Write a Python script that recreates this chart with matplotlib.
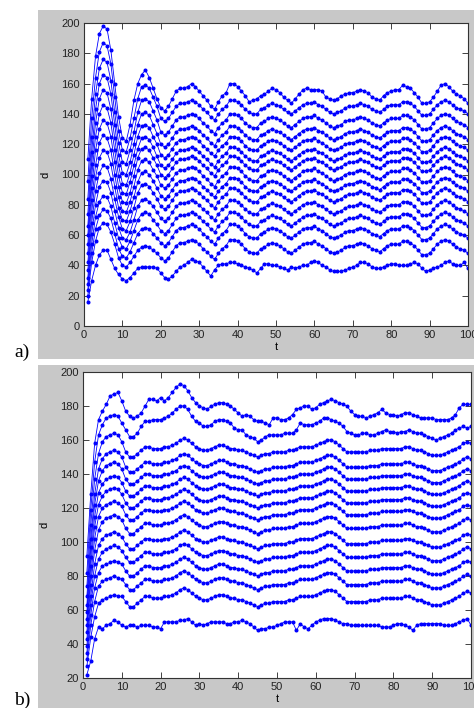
import matplotlib
matplotlib.use("Agg")
import matplotlib.pyplot as plt
from matplotlib.patches import Rectangle

plt.rcParams['font.family'] = ['Liberation Sans', 'DejaVu Sans']

t = list(range(1, 101))

# panel a), curves from bottom to top
a_01 = [16, 30, 40, 47, 50, 50, 44, 38, 34, 31, 30, 32, 35, 38, 39, 39, 39, 39, 38, 35,
        32, 31, 33, 36, 39, 40, 42, 44, 43, 42, 39, 36, 33, 37, 40, 41, 41, 42, 42, 41,
        40, 39, 38, 37, 35, 38, 41, 41, 40, 40, 39, 38, 37, 39, 38, 39, 40, 40, 42, 43,
        42, 40, 39, 37, 36, 36, 36, 37, 38, 39, 40, 42, 42, 41, 39, 38, 38, 39, 40, 41,
        41, 40, 40, 40, 41, 42, 41, 38, 36, 37, 38, 39, 40, 42, 43, 41, 40, 40, 42, 38]
a_02 = [20, 42, 56, 65, 68, 67, 62, 54, 45, 40, 39, 42, 46, 50, 52, 53, 52, 50, 48, 45,
        43, 45, 49, 53, 55, 55, 56, 57, 56, 54, 51, 49, 46, 44, 48, 51, 53, 57, 57, 56,
        54, 51, 49, 48, 48, 51, 52, 54, 55, 54, 53, 51, 49, 48, 50, 52, 54, 55, 55, 56,
        54, 53, 51, 49, 48, 49, 50, 52, 53, 53, 54, 55, 54, 53, 51, 50, 49, 51, 53, 54,
        54, 54, 56, 56, 55, 53, 50, 47, 47, 48, 51, 54, 56, 57, 56, 54, 52, 51, 50, 48]
a_03 = [24, 48, 64, 73, 77, 76, 71, 61, 51, 46, 45, 49, 55, 61, 64, 65, 64, 61, 58, 55,
        53, 55, 59, 63, 65, 65, 66, 67, 66, 64, 61, 59, 56, 54, 58, 61, 63, 67, 67, 66,
        64, 61, 59, 58, 58, 61, 62, 64, 65, 64, 63, 61, 59, 58, 60, 62, 64, 65, 65, 66,
        64, 63, 61, 59, 58, 59, 60, 62, 63, 63, 64, 65, 64, 63, 61, 60, 59, 61, 63, 64,
        64, 64, 66, 66, 65, 63, 60, 57, 57, 58, 61, 64, 66, 67, 66, 64, 62, 61, 60, 58]
a_04 = [28, 54, 72, 82, 86, 85, 79, 68, 58, 52, 51, 56, 63, 70, 74, 75, 74, 70, 67, 63,
        61, 63, 67, 71, 73, 73, 74, 75, 74, 72, 69, 67, 64, 62, 66, 69, 71, 75, 75, 74,
        72, 69, 67, 66, 66, 69, 70, 72, 73, 72, 71, 69, 67, 66, 68, 70, 72, 73, 73, 74,
        72, 71, 69, 67, 66, 67, 68, 70, 71, 71, 72, 73, 72, 71, 69, 68, 67, 69, 71, 72,
        72, 72, 74, 74, 73, 71, 68, 65, 65, 66, 69, 72, 74, 75, 74, 72, 70, 69, 68, 66]
a_05 = [32, 61, 80, 92, 96, 95, 88, 76, 65, 58, 57, 62, 70, 79, 83, 84, 82, 79, 75, 71,
        69, 71, 75, 79, 81, 81, 82, 83, 82, 80, 77, 75, 72, 70, 74, 77, 79, 83, 83, 82,
        80, 77, 75, 74, 74, 77, 78, 80, 81, 80, 79, 77, 75, 74, 76, 78, 80, 81, 81, 82,
        80, 79, 77, 75, 74, 75, 76, 78, 79, 79, 80, 81, 80, 79, 77, 76, 75, 77, 79, 80,
        80, 80, 82, 82, 81, 79, 76, 73, 73, 74, 77, 80, 82, 83, 82, 80, 78, 77, 76, 74]
a_06 = [37, 68, 89, 101, 106, 105, 97, 84, 72, 64, 63, 69, 78, 88, 93, 94, 92, 88, 84, 79,
        77, 79, 83, 87, 89, 89, 90, 91, 90, 88, 85, 83, 80, 78, 82, 85, 87, 91, 91, 90,
        88, 85, 83, 82, 82, 85, 86, 88, 89, 88, 87, 85, 83, 82, 84, 86, 88, 89, 89, 90,
        88, 87, 85, 83, 82, 83, 84, 86, 87, 87, 88, 89, 88, 87, 85, 84, 83, 85, 87, 88,
        88, 88, 90, 90, 89, 87, 84, 81, 81, 82, 85, 88, 90, 91, 90, 88, 86, 85, 84, 82]
a_07 = [42, 75, 98, 111, 116, 115, 107, 92, 78, 70, 69, 76, 85, 95, 101, 102, 100, 96, 91, 86,
        84, 86, 90, 94, 96, 96, 97, 98, 97, 95, 92, 90, 87, 85, 89, 92, 94, 98, 98, 97,
        95, 92, 90, 89, 89, 92, 93, 95, 96, 95, 94, 92, 90, 89, 91, 93, 95, 96, 96, 97,
        95, 94, 92, 90, 89, 90, 91, 93, 94, 94, 95, 96, 95, 94, 92, 91, 90, 92, 94, 95,
        95, 95, 97, 97, 96, 94, 91, 88, 88, 89, 92, 95, 97, 98, 97, 95, 93, 92, 91, 89]
a_08 = [48, 83, 106, 121, 126, 124, 116, 100, 85, 76, 75, 82, 92, 103, 109, 110, 108, 103, 99, 93,
        91, 93, 97, 101, 103, 103, 104, 105, 104, 102, 99, 97, 94, 92, 96, 99, 101, 105, 105, 104,
        102, 99, 97, 96, 96, 99, 100, 102, 103, 102, 101, 99, 97, 96, 98, 100, 102, 103, 103, 104,
        102, 101, 99, 97, 96, 97, 98, 100, 101, 101, 102, 103, 102, 101, 99, 98, 97, 99, 101, 102,
        102, 102, 104, 104, 103, 101, 98, 95, 95, 96, 99, 102, 104, 105, 104, 102, 100, 99, 98, 96]
a_09 = [54, 91, 116, 130, 136, 134, 125, 108, 92, 82, 81, 88, 99, 111, 117, 118, 116, 111, 106, 100,
        98, 100, 104, 108, 110, 110, 111, 112, 111, 109, 106, 104, 101, 99, 103, 106, 108, 112, 112, 111,
        109, 106, 104, 103, 103, 106, 107, 109, 110, 109, 108, 106, 104, 103, 105, 107, 109, 110, 110, 111,
        109, 108, 106, 104, 103, 104, 105, 107, 108, 108, 109, 110, 109, 108, 106, 105, 104, 106, 108, 109,
        109, 109, 111, 111, 110, 108, 105, 102, 102, 103, 106, 109, 111, 112, 111, 109, 107, 106, 105, 103]
a_10 = [60, 99, 125, 140, 146, 144, 134, 116, 99, 88, 87, 95, 106, 117, 124, 125, 123, 118, 112, 106,
        104, 106, 110, 114, 116, 116, 117, 118, 117, 115, 112, 110, 107, 105, 109, 112, 114, 118, 118, 117,
        115, 112, 110, 109, 109, 112, 113, 115, 116, 115, 114, 112, 110, 109, 111, 113, 115, 116, 116, 117,
        115, 114, 112, 110, 109, 110, 111, 113, 114, 114, 115, 116, 115, 114, 112, 111, 110, 112, 114, 115,
        115, 115, 117, 117, 116, 114, 111, 108, 108, 109, 112, 115, 117, 118, 117, 115, 113, 112, 111, 109]
a_11 = [66, 107, 134, 150, 156, 154, 143, 124, 106, 94, 93, 101, 113, 125, 132, 133, 131, 125, 120, 113,
        111, 113, 117, 121, 123, 123, 124, 125, 124, 122, 119, 117, 114, 112, 116, 119, 121, 125, 125, 124,
        122, 119, 117, 116, 116, 119, 120, 122, 123, 122, 121, 119, 117, 116, 118, 120, 122, 123, 123, 124,
        122, 121, 119, 117, 116, 117, 118, 120, 121, 121, 122, 123, 122, 121, 119, 118, 117, 119, 121, 122,
        122, 122, 124, 124, 123, 121, 118, 115, 115, 116, 119, 122, 124, 125, 124, 122, 120, 119, 118, 116]
a_12 = [74, 115, 143, 160, 166, 164, 153, 133, 113, 101, 100, 108, 120, 133, 140, 141, 139, 133, 127, 120,
        118, 120, 124, 128, 130, 130, 131, 132, 131, 129, 126, 124, 121, 119, 123, 126, 128, 132, 132, 131,
        129, 126, 124, 123, 123, 126, 127, 129, 130, 129, 128, 126, 124, 123, 125, 127, 129, 130, 130, 131,
        129, 128, 126, 124, 123, 124, 125, 127, 128, 128, 129, 130, 129, 128, 126, 125, 124, 126, 128, 129,
        129, 129, 131, 131, 130, 128, 125, 122, 122, 123, 126, 129, 131, 132, 131, 129, 127, 126, 125, 123]
a_13 = [84, 125, 153, 170, 176, 174, 162, 141, 121, 108, 107, 116, 128, 141, 149, 150, 148, 142, 136, 128,
        126, 128, 132, 136, 138, 138, 139, 140, 139, 137, 134, 132, 129, 127, 131, 134, 136, 140, 140, 139,
        137, 134, 132, 131, 131, 134, 135, 137, 138, 137, 136, 134, 132, 131, 133, 135, 137, 138, 138, 139,
        137, 136, 134, 132, 131, 132, 133, 135, 136, 136, 137, 138, 137, 136, 134, 133, 132, 134, 136, 137,
        137, 137, 139, 139, 138, 136, 133, 130, 130, 131, 134, 137, 139, 140, 139, 137, 135, 134, 133, 131]
a_14 = [96, 137, 164, 181, 187, 185, 173, 151, 129, 116, 115, 124, 137, 150, 158, 159, 157, 151, 145, 137,
        135, 137, 141, 145, 147, 147, 148, 149, 148, 146, 143, 141, 138, 136, 140, 143, 145, 149, 149, 148,
        146, 143, 141, 140, 140, 143, 144, 146, 147, 146, 145, 143, 141, 140, 142, 144, 146, 147, 147, 148,
        146, 145, 143, 141, 140, 141, 142, 144, 145, 145, 146, 147, 146, 145, 143, 142, 141, 143, 145, 146,
        146, 146, 148, 148, 147, 145, 142, 139, 139, 140, 143, 146, 148, 149, 148, 146, 144, 143, 142, 140]
a_15 = [110, 150, 178, 193, 198, 196, 182, 160, 138, 124, 122, 133, 149, 160, 166, 169, 164, 157, 150, 144,
        142, 145, 150, 155, 157, 157, 158, 160, 158, 155, 152, 149, 145, 143, 148, 152, 154, 160, 160, 158,
        155, 152, 148, 149, 150, 152, 153, 155, 157, 156, 154, 151, 149, 147, 150, 153, 156, 157, 156, 156,
        156, 155, 151, 150, 149, 150, 152, 153, 154, 154, 155, 156, 155, 154, 151, 150, 149, 152, 154, 155,
        156, 156, 159, 158, 157, 154, 151, 147, 147, 148, 151, 155, 159, 160, 158, 155, 153, 152, 150, 147]

# panel b), curves from bottom to top
b_01 = [22, 30, 43, 50, 49, 51, 52, 54, 53, 51, 50, 51, 51, 50, 51, 51, 51, 50, 50, 49,
        53, 53, 53, 53, 54, 54, 55, 53, 51, 52, 51, 52, 53, 53, 53, 53, 52, 52, 53, 53,
        54, 53, 52, 50, 48, 49, 49, 50, 50, 51, 52, 53, 53, 53, 48, 52, 50, 49, 51, 53,
        54, 55, 55, 55, 54, 53, 52, 52, 51, 51, 51, 51, 51, 51, 51, 51, 50, 50, 50, 51,
        52, 52, 51, 50, 48, 51, 52, 52, 52, 52, 52, 52, 51, 51, 51, 52, 53, 54, 55, 51]
b_02 = [27, 44, 56, 64, 66, 67, 68, 69, 68, 68, 65, 62, 62, 64, 66, 68, 68, 67, 67, 67,
        68, 68, 69, 70, 72, 73, 72, 70, 68, 67, 66, 66, 67, 68, 69, 69, 68, 67, 67, 66,
        66, 65, 64, 63, 62, 63, 64, 64, 65, 65, 65, 65, 66, 66, 67, 68, 68, 68, 68, 69,
        70, 71, 72, 72, 71, 69, 67, 65, 65, 65, 65, 65, 65, 66, 66, 66, 67, 67, 67, 67,
        67, 67, 68, 68, 67, 66, 66, 65, 64, 63, 63, 63, 64, 65, 66, 67, 68, 70, 71, 70]
b_03 = [31, 51, 65, 74, 77, 78, 79, 80, 79, 78, 75, 72, 72, 74, 76, 78, 78, 77, 77, 77,
        78, 78, 79, 80, 82, 83, 82, 80, 78, 77, 76, 76, 77, 78, 79, 79, 78, 77, 77, 76,
        76, 75, 74, 73, 72, 73, 74, 74, 75, 75, 75, 75, 76, 76, 77, 78, 78, 78, 78, 79,
        80, 81, 82, 82, 81, 79, 77, 75, 75, 75, 75, 75, 75, 76, 76, 76, 77, 77, 77, 77,
        77, 77, 78, 78, 77, 76, 76, 75, 74, 73, 73, 73, 74, 75, 76, 77, 78, 80, 81, 80]
b_04 = [35, 57, 73, 82, 86, 87, 88, 89, 88, 87, 83, 80, 80, 82, 84, 86, 86, 85, 85, 85,
        86, 86, 87, 88, 90, 91, 90, 88, 86, 85, 84, 84, 85, 86, 87, 87, 86, 85, 85, 84,
        84, 83, 82, 81, 80, 81, 82, 82, 83, 83, 83, 83, 84, 84, 85, 86, 86, 86, 86, 87,
        88, 89, 90, 90, 89, 87, 85, 83, 83, 83, 83, 83, 83, 84, 84, 84, 85, 85, 85, 85,
        85, 85, 86, 86, 85, 84, 84, 83, 82, 81, 81, 81, 82, 83, 84, 85, 86, 88, 89, 88]
b_05 = [39, 63, 80, 90, 94, 96, 97, 98, 97, 95, 91, 88, 88, 90, 92, 94, 94, 93, 93, 93,
        94, 94, 95, 96, 98, 99, 98, 96, 94, 93, 92, 92, 93, 94, 95, 95, 94, 93, 93, 92,
        92, 91, 90, 89, 88, 89, 90, 90, 91, 91, 91, 91, 92, 92, 93, 94, 94, 94, 94, 95,
        96, 97, 98, 98, 97, 95, 93, 91, 91, 91, 91, 91, 91, 92, 92, 92, 93, 93, 93, 93,
        93, 93, 94, 94, 93, 92, 92, 91, 90, 89, 89, 89, 90, 91, 92, 93, 94, 96, 97, 96]
b_06 = [43, 68, 87, 98, 102, 104, 105, 106, 105, 103, 99, 96, 96, 98, 100, 102, 102, 101, 101, 101,
        102, 102, 103, 104, 106, 107, 106, 104, 102, 101, 100, 100, 101, 102, 103, 103, 102, 101, 101, 100,
        100, 99, 98, 97, 96, 97, 98, 98, 99, 99, 99, 99, 100, 100, 101, 102, 102, 102, 102, 103,
        104, 105, 106, 106, 105, 103, 101, 99, 99, 99, 99, 99, 99, 100, 100, 100, 101, 101, 101, 101,
        101, 101, 102, 102, 101, 100, 100, 99, 98, 97, 97, 97, 98, 99, 100, 101, 102, 104, 105, 104]
b_07 = [47, 75, 95, 107, 112, 114, 115, 116, 115, 113, 108, 105, 105, 107, 109, 111, 111, 110, 110, 110,
        111, 111, 112, 113, 115, 116, 115, 113, 111, 110, 109, 109, 110, 111, 112, 112, 111, 110, 110, 109,
        109, 108, 107, 106, 105, 106, 107, 107, 108, 108, 108, 108, 109, 109, 110, 111, 111, 111, 111, 112,
        113, 114, 115, 115, 114, 112, 110, 108, 108, 108, 108, 108, 108, 109, 109, 109, 110, 110, 110, 110,
        110, 110, 111, 111, 110, 109, 109, 108, 107, 106, 106, 106, 107, 108, 109, 110, 111, 113, 114, 113]
b_08 = [51, 80, 102, 115, 120, 122, 123, 124, 123, 121, 116, 113, 113, 115, 117, 119, 119, 118, 118, 118,
        119, 119, 120, 121, 123, 124, 123, 121, 119, 118, 117, 117, 118, 119, 120, 120, 119, 118, 118, 117,
        117, 116, 115, 114, 113, 114, 115, 115, 116, 116, 116, 116, 117, 117, 118, 119, 119, 119, 119, 120,
        121, 122, 123, 123, 122, 120, 118, 116, 116, 116, 116, 116, 116, 117, 117, 117, 118, 118, 118, 118,
        118, 118, 119, 119, 118, 117, 117, 116, 115, 114, 114, 114, 115, 116, 117, 118, 119, 121, 122, 121]
b_09 = [55, 86, 109, 122, 127, 130, 131, 132, 131, 128, 123, 120, 120, 122, 124, 126, 126, 125, 125, 125,
        126, 126, 127, 128, 130, 131, 130, 128, 126, 125, 124, 124, 125, 126, 127, 127, 126, 125, 125, 124,
        124, 123, 122, 121, 120, 121, 122, 122, 123, 123, 123, 123, 124, 124, 125, 126, 126, 126, 126, 127,
        128, 129, 130, 130, 129, 127, 125, 123, 123, 123, 123, 123, 123, 124, 124, 124, 125, 125, 125, 125,
        125, 125, 126, 126, 125, 124, 124, 123, 122, 121, 121, 121, 122, 123, 124, 125, 126, 128, 129, 128]
b_10 = [59, 91, 115, 129, 134, 137, 138, 139, 138, 135, 130, 127, 127, 129, 131, 133, 133, 132, 132, 132,
        133, 133, 134, 135, 137, 138, 137, 135, 133, 132, 131, 131, 132, 133, 134, 134, 133, 132, 132, 131,
        131, 130, 129, 128, 127, 128, 129, 129, 130, 130, 130, 130, 131, 131, 132, 133, 133, 133, 133, 134,
        135, 136, 137, 137, 136, 134, 132, 130, 130, 130, 130, 130, 130, 131, 131, 131, 132, 132, 132, 132,
        132, 132, 133, 133, 132, 131, 131, 130, 129, 128, 128, 128, 129, 130, 131, 132, 133, 135, 136, 135]
b_11 = [63, 97, 122, 136, 142, 145, 146, 147, 146, 143, 137, 134, 134, 136, 138, 140, 140, 139, 139, 139,
        140, 140, 141, 142, 144, 145, 144, 142, 140, 139, 138, 138, 139, 140, 141, 141, 140, 139, 139, 138,
        138, 137, 136, 135, 134, 135, 136, 136, 137, 137, 137, 137, 138, 138, 139, 140, 140, 140, 140, 141,
        142, 143, 144, 144, 143, 141, 139, 137, 137, 137, 137, 137, 137, 138, 138, 138, 139, 139, 139, 139,
        139, 139, 140, 140, 139, 138, 138, 137, 136, 135, 135, 135, 136, 137, 138, 139, 140, 142, 143, 142]
b_12 = [68, 102, 128, 143, 149, 152, 153, 154, 153, 150, 144, 141, 141, 143, 145, 147, 147, 146, 146, 146,
        147, 147, 148, 149, 151, 152, 151, 149, 147, 146, 145, 145, 146, 147, 148, 148, 147, 146, 146, 145,
        145, 144, 143, 142, 141, 142, 143, 143, 144, 144, 144, 144, 145, 145, 146, 147, 147, 147, 147, 148,
        149, 150, 151, 151, 150, 148, 146, 144, 144, 144, 144, 144, 144, 145, 145, 145, 146, 146, 146, 146,
        146, 146, 147, 147, 146, 145, 145, 144, 143, 142, 142, 142, 143, 144, 145, 146, 147, 149, 150, 149]
b_13 = [74, 110, 137, 152, 159, 162, 163, 164, 163, 159, 153, 150, 150, 152, 154, 156, 156, 155, 155, 155,
        156, 156, 157, 158, 160, 161, 160, 158, 156, 155, 154, 154, 155, 156, 157, 157, 156, 155, 155, 154,
        154, 153, 152, 151, 150, 151, 152, 152, 153, 153, 153, 153, 154, 154, 155, 156, 156, 156, 156, 157,
        158, 159, 160, 160, 159, 157, 155, 153, 153, 153, 153, 153, 153, 154, 154, 154, 155, 155, 155, 155,
        155, 155, 156, 156, 155, 154, 154, 153, 152, 151, 151, 151, 152, 153, 154, 155, 156, 158, 159, 158]
b_14 = [82, 119, 147, 163, 169, 173, 174, 175, 174, 170, 166, 162, 162, 164, 168, 171, 171, 172, 172, 172,
        173, 174, 176, 178, 180, 180, 178, 174, 171, 170, 168, 168, 169, 171, 172, 172, 171, 170, 167, 166,
        166, 163, 162, 161, 159, 160, 162, 163, 163, 163, 163, 164, 164, 164, 166, 170, 169, 169, 169, 170,
        171, 173, 173, 172, 171, 170, 168, 165, 164, 163, 163, 164, 164, 163, 163, 164, 165, 166, 165, 165,
        164, 165, 165, 166, 165, 164, 164, 163, 162, 161, 160, 161, 162, 163, 164, 166, 167, 168, 167, 168]
b_15 = [92, 128, 158, 172, 177, 181, 186, 187, 188, 183, 177, 174, 173, 174, 176, 180, 184, 184, 183, 185,
        183, 185, 188, 191, 193, 192, 189, 185, 182, 180, 179, 178, 180, 181, 182, 182, 181, 180, 178, 176,
        174, 175, 174, 172, 171, 171, 170, 169, 173, 173, 172, 172, 173, 175, 178, 179, 180, 180, 178, 179,
        181, 182, 183, 184, 183, 182, 181, 180, 177, 175, 174, 174, 173, 174, 175, 176, 178, 176, 175, 175,
        174, 175, 176, 176, 175, 174, 173, 173, 173, 173, 172, 172, 172, 172, 173, 175, 179, 181, 181, 181]

lines_a = [a_01, a_02, a_03, a_04, a_05, a_06, a_07, a_08, a_09, a_10, a_11, a_12, a_13, a_14, a_15]
lines_b = [b_01, b_02, b_03, b_04, b_05, b_06, b_07, b_08, b_09, b_10, b_11, b_12, b_13, b_14, b_15]

W, H = 474, 708
GRAY = '#c8c8c8'


def px_box(x0, y0, x1, y1):
    # pixel box (top-left origin) -> figure fraction rect
    return [x0 / W, 1 - y1 / H, (x1 - x0) / W, (y1 - y0) / H]


def style_axes(ax, ylo, yticks):
    ax.set_xlim(0, 100)
    ax.set_ylim(ylo, 200)
    ax.set_xticks(range(0, 101, 10))
    ax.set_yticks(yticks)
    ax.tick_params(direction='in', top=True, right=True, length=4, width=0.6,
                   labelsize=8, pad=3, colors='#222222')
    for s in ax.spines.values():
        s.set_linewidth(0.8)
        s.set_color('#333333')
    ax.set_xlabel('t', fontsize=8, labelpad=1)
    ax.set_ylabel('d', fontsize=8, labelpad=8)


fig = plt.figure(figsize=(4.74, 7.08), dpi=100)
for r in (px_box(38, 10, 474, 359), px_box(38, 365, 474, 708)):
    fig.patches.append(Rectangle((r[0], r[1]), r[2], r[3], transform=fig.transFigure,
                                 facecolor=GRAY, edgecolor='none', zorder=-10))

ax_a = fig.add_axes(px_box(84, 23, 468, 326))
ax_b = fig.add_axes(px_box(83, 372, 471, 678))

for ax, lines in ((ax_a, lines_a), (ax_b, lines_b)):
    ax.set_zorder(1)
    for vals in lines:
        ax.plot(t, vals, '-', color='blue', linewidth=0.6, marker='.', markersize=3.8)

style_axes(ax_a, 0, range(0, 201, 20))
style_axes(ax_b, 20, range(20, 201, 20))

fig.text(14 / W, 1 - 352 / H, 'a)', fontsize=14, family=['Liberation Serif', 'DejaVu Serif'],
         va='center', ha='left')
fig.text(14 / W, 1 - 700 / H, 'b)', fontsize=14, family=['Liberation Serif', 'DejaVu Serif'],
         va='center', ha='left')

fig.savefig('out.png', dpi=100)
